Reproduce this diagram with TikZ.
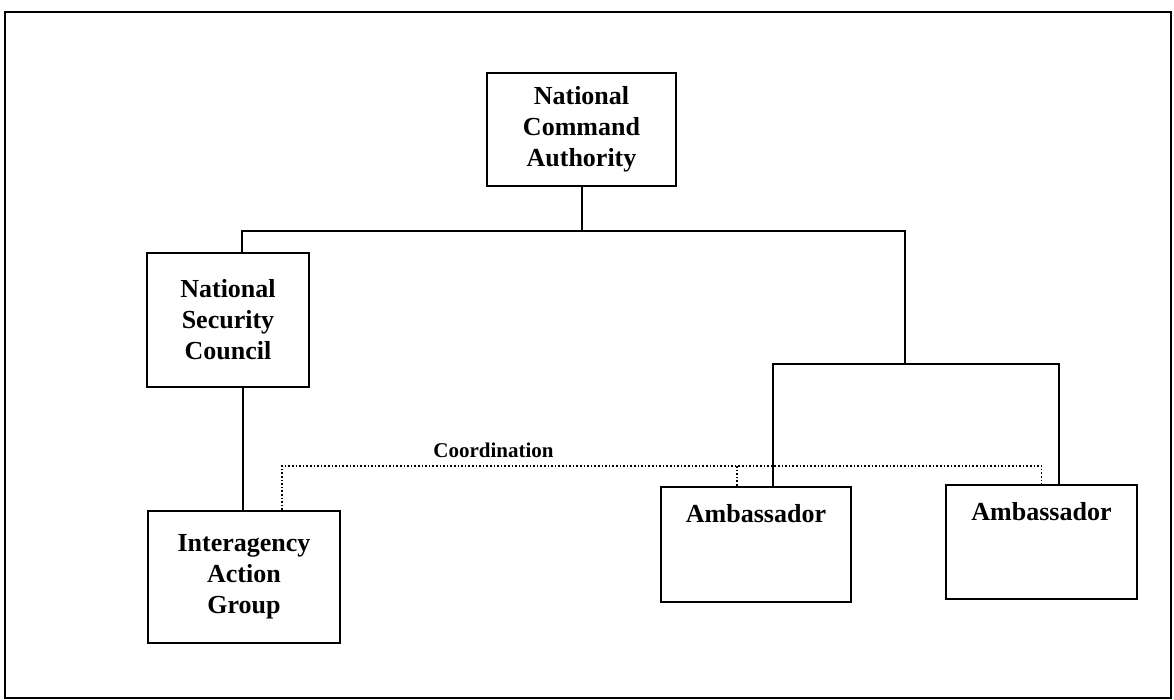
\documentclass[tikz,border=0pt]{standalone}
\usepackage{fontspec}
\setmainfont{Liberation Serif}
\begin{document}
\begin{tikzpicture}[x=0.5pt,y=-0.5pt,
      orgtext/.style={font=\fontsize{13}{15.5}\selectfont\bfseries},
      orgbox/.style={draw,line width=1pt,align=center,inner sep=0pt,orgtext},
      link/.style={line width=1pt},
      coordline/.style={densely dotted,line width=0.8pt}]
      \useasboundingbox (0,0) rectangle (1174,700);
      \draw[line width=1pt] (5,12) rectangle (1171,698);
      \node[orgbox,minimum width=94.5pt,minimum height=56.5pt] (nca) at (581.5,129.5) {National\\Command\\Authority};
      \node[orgbox,minimum width=81pt,minimum height=67pt] (nsc) at (228,320) {National\\Security\\Council};
      \node[orgbox,minimum width=96pt,minimum height=66pt] (iag) at (244,577) {Interagency\\Action\\Group};
      \node[orgbox,minimum width=95pt,minimum height=57.5pt,
        label={[orgtext,anchor=north,inner sep=0pt,yshift=-9pt]north:Ambassador}] (amb1) at (756,544.5) {};
      \node[orgbox,minimum width=95.5pt,minimum height=57pt,
        label={[orgtext,anchor=north,inner sep=0pt,yshift=-9pt]north:Ambassador}] (amb2) at (1041.5,542) {};
      \coordinate (split) at (905,364);
      \coordinate (coordlevel) at (737,466);
      \draw[link] (nca.south) -- ++(0,44) -| ([xshift=7pt]nsc.north);
      \draw[link] (nca.south) -- ++(0,44) -| (split);
      \draw[link] ([xshift=8.5pt]amb1.north) |- (split) -| ([xshift=8.75pt]amb2.north);
      \draw[link] ([xshift=7.5pt]nsc.south) -- ([xshift=-0.5pt]iag.north);
      \draw[coordline] ([xshift=19pt]iag.north) |- (coordlevel) -| (amb2.north);
      \draw[coordline] (coordlevel) -- (coordlevel |- amb1.north);
      \node[font=\fontsize{10.5}{12}\selectfont\bfseries,anchor=base] (coordlabel) at (493.5,458) {Coordination};
     \end{tikzpicture}
\end{document}
